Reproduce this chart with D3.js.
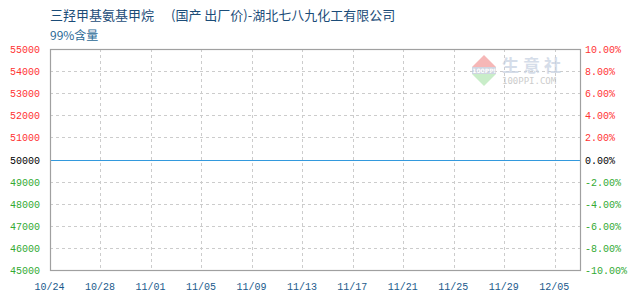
<!DOCTYPE html>
<html>
<head>
<meta charset="utf-8">
<script src="https://cdn.jsdelivr.net/npm/d3@7"></script>
<style>
	body { margin: 0; background: #fff; }
	svg { display: block; }
</style>
</head>
<body>
<script>
// Data
var dateLabels = ["10/24", "10/28", "11/01", "11/05", "11/09", "11/13", "11/17", "11/21", "11/25", "11/29", "12/05"];
var priceTicks = [45000, 46000, 47000, 48000, 49000, 50000, 51000, 52000, 53000, 54000, 55000];
var pctTicks = [-10, -8, -6, -4, -2, 0, 2, 4, 6, 8, 10];
// price line: one value per date label, last one at the right edge
var linePos = [0, 1, 2, 3, 4, 5, 6, 7, 8, 9, 10, 10.5];
var priceValues = [50000, 50000, 50000, 50000, 50000, 50000, 50000, 50000, 50000, 50000, 50000, 50000];

var W = 630, H = 300;
var plotL = 50, plotR = 580, plotT = 49, plotB = 270;

var svg = d3.select("body").
append("svg").
attr("width", W).
attr("height", H);

// Scales
var xScale = d3.scaleLinear().domain([0, 10.5]).range([plotL, plotR]);
var yScale = d3.scaleLinear().domain([45000, 55000]).range([plotB, plotT]);
var pScale = d3.scaleLinear().domain([-10, 10]).range([plotB, plotT]);

function sideColor(v, mid) {
	if (v > mid) return "#ff3333";
	if (v < mid) return "#33aa33";
	return "#000";
}

// Title
var title = svg.append("text").
attr("x", 50).
attr("y", 20).
style("font-family", "'Noto Sans CJK SC', sans-serif").
style("font-size", "13px").
style("fill", "#1b4c78");
title.append("tspan").text("三羟甲基氨基甲烷");
title.append("tspan").attr("dx", 17).text("(国产 出厂价)-湖北七八九化工有限公司");

svg.append("text").
attr("x", 50).
attr("y", 40).
style("font-family", "'Noto Sans CJK SC', sans-serif").
style("font-size", "12px").
style("fill", "#2b6a96").
text("99%含量");

// Grid
var grid = svg.append("g");
grid.selectAll(".hgrid").
data(priceTicks.slice(1, -1)).
enter().
append("line").
attr("x1", plotL).
attr("x2", plotR).
attr("y1", function (d) {return Math.round(yScale(d)) + 0.5;}).
attr("y2", function (d) {return Math.round(yScale(d)) + 0.5;}).
style("stroke", "#cccccc").
style("stroke-dasharray", "3,3");

grid.selectAll(".vgrid").
data(dateLabels.slice(1)).
enter().
append("line").
attr("x1", function (d, i) {return Math.round(xScale(i + 1)) + 0.5;}).
attr("x2", function (d, i) {return Math.round(xScale(i + 1)) + 0.5;}).
attr("y1", plotT).
attr("y2", plotB).
style("stroke", "#cccccc").
style("stroke-dasharray", "3,3");

// Watermark
var wm = svg.append("g").attr("opacity", 0.75);
wm.append("path").
attr("d", "M472,67 L484,55 L496,67 Z").
style("fill", "#f4a0a0");
wm.append("rect").
attr("x", 472).attr("y", 67).attr("width", 24).attr("height", 7).
style("fill", "#c0c8d8");
wm.append("text").
attr("x", 484).attr("y", 73).
attr("text-anchor", "middle").
style("font-family", "'DejaVu Sans', sans-serif").
style("font-size", "6px").
style("font-weight", "bold").
style("fill", "#fff").
text("100PPI");
wm.append("path").
attr("d", "M472,74 L496,74 L484,86 Z").
style("fill", "#b8e8b8");
wm.append("text").
attr("x", 502).attr("y", 72).
style("font-family", "'Noto Sans CJK SC', sans-serif").
style("font-size", "17px").
style("font-weight", "bold").
style("letter-spacing", "4px").
style("fill", "#c8d2e2").
text("生意社");
wm.append("text").
attr("x", 502).attr("y", 84).
style("font-family", "'DejaVu Sans Mono', monospace").
style("font-size", "9px").
style("fill", "#bbbbbb").
text("100PPI.COM");

// Price line
var line = d3.line().
x(function (d, i) {return xScale(linePos[i]);}).
y(function (d) {return Math.round(yScale(d)) + 0.5;});

svg.append("path").
datum(priceValues).
attr("d", line).
style("fill", "none").
style("stroke", "#3399dd").
style("stroke-width", 1.2);

// Frame
svg.append("rect").
attr("x", plotL + 0.5).
attr("y", plotT + 0.5).
attr("width", plotR - plotL).
attr("height", plotB - plotT).
style("fill", "none").
style("stroke", "#a0a0a0").
style("stroke-width", 1.2);

// Axes
var yAxis = d3.axisLeft(yScale).tickValues(priceTicks).tickSize(0).tickPadding(0).tickFormat(d3.format("d"));
var gy = svg.append("g").
attr("transform", "translate(" + 40 + ",0)").
call(yAxis);
gy.select(".domain").remove();
gy.selectAll("text").
attr("dy", "0.35em").
style("font-family", "'Liberation Mono', monospace").
style("font-size", "10px").
style("fill", function (d) {return sideColor(d, 50000);});

var pAxis = d3.axisRight(pScale).tickValues(pctTicks).tickSize(0).tickPadding(0).
tickFormat(function (d) {return d.toFixed(2) + "%";});
var gp = svg.append("g").
attr("transform", "translate(" + 585 + ",0)").
call(pAxis);
gp.select(".domain").remove();
gp.selectAll("text").
attr("dy", "0.35em").
style("font-family", "'Liberation Mono', monospace").
style("font-size", "10px").
style("fill", function (d) {return sideColor(d, 0);});

var xAxis = d3.axisBottom(xScale).tickValues(d3.range(dateLabels.length)).tickSize(0).tickPadding(0).
tickFormat(function (d) {return dateLabels[d];});
var gx = svg.append("g").
attr("transform", "translate(-1," + 286 + ")").
call(xAxis);
gx.select(".domain").remove();
gx.selectAll("text").
attr("dy", "0.35em").
style("font-family", "'Liberation Mono', monospace").
style("font-size", "10px").
style("fill", "#1a5a8c");
</script>
</body>
</html>
